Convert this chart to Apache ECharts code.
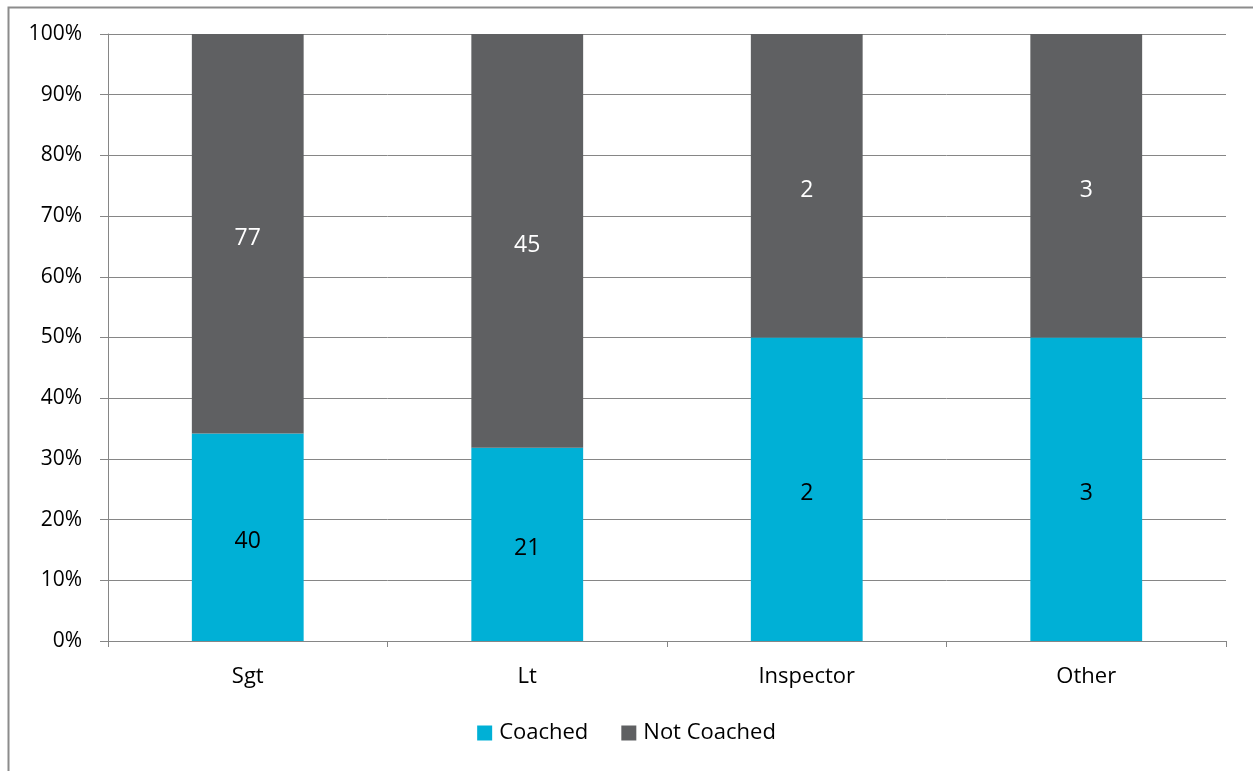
<!DOCTYPE html>
<html>
<head>
<meta charset="utf-8">
<style>
  html, body { margin: 0; padding: 0; background: #fff; }
  #chart { width: 1253px; height: 771px; }
</style>
<script src="https://cdn.jsdelivr.net/npm/echarts@6/dist/echarts.min.js"></script>
</head>
<body>
<div id="chart"></div>
<script>
// Ranks and coaching counts
const categories = ['Sgt', 'Lt', 'Inspector', 'Other'];
const coached = [40, 21, 2, 3];
const notCoached = [77, 45, 2, 3];
const seriesNames = ['Coached', 'Not Coached'];

// Share of each rank, so every column stacks to 100%
const totals = coached.map((v, i) => v + notCoached[i]);
const share = (arr) => arr.map((v, i) => ({ value: v / totals[i], count: v }));

const font = '"Open Sans", "Liberation Sans", sans-serif';
const chart = echarts.init(document.getElementById('chart'));

chart.setOption({
  animation: false,
  backgroundColor: '#ffffff',
  graphic: [{
    type: 'rect',
    left: 6, top: 5,
    shape: { width: 1300, height: 800 },
    style: { fill: 'none', stroke: '#8c8c8c', lineWidth: 2 },
    silent: true
  }],
  grid: { left: 108, right: 27, top: 34, bottom: 130, containLabel: false },
  legend: {
    data: seriesNames,
    bottom: 22,
    left: 'center',
    itemWidth: 15, itemHeight: 15, itemGap: 33,
    icon: 'rect',
    textStyle: { fontFamily: font, fontSize: 22, color: '#000', padding: [0, 0, 0, 2] }
  },
  xAxis: {
    type: 'category',
    data: categories,
    axisLine: { lineStyle: { color: '#868686', width: 1 } },
    axisTick: { show: true, alignWithLabel: false, length: 6, lineStyle: { color: '#868686' } },
    axisLabel: { margin: 25, fontFamily: font, fontSize: 22, color: '#000' }
  },
  yAxis: {
    type: 'value',
    min: 0, max: 1, interval: 0.1,
    axisLine: { show: true, lineStyle: { color: '#868686', width: 1 } },
    axisTick: { show: true, length: 8, lineStyle: { color: '#868686' } },
    splitLine: { lineStyle: { color: '#868686', width: 1 } },
    axisLabel: {
      margin: 26,
      fontFamily: font, fontSize: 21, color: '#000',
      formatter: (v) => Math.round(v * 100) + '%'
    }
  },
  series: [
    {
      name: seriesNames[0],
      type: 'bar',
      stack: 'total',
      barWidth: '40%',
      itemStyle: { color: '#00B0D6' },
      label: {
        show: true, position: 'inside', offset: [0, 4],
        fontFamily: font, fontSize: 23, color: '#000',
        formatter: (p) => p.data.count
      },
      data: share(coached)
    },
    {
      name: seriesNames[1],
      type: 'bar',
      stack: 'total',
      barWidth: '40%',
      itemStyle: { color: '#5F6062' },
      label: {
        show: true, position: 'inside', offset: [0, 5],
        fontFamily: font, fontSize: 23, color: '#fff',
        formatter: (p) => p.data.count
      },
      data: share(notCoached)
    }
  ]
});
</script>
</body>
</html>
